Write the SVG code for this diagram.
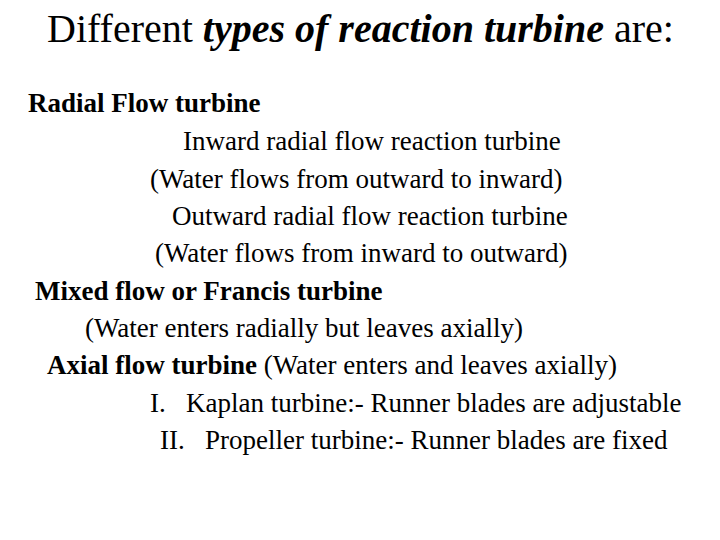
<svg xmlns="http://www.w3.org/2000/svg" width="720" height="540" viewBox="0 0 720 540">
<style>
text{font-family:"Liberation Serif","Times New Roman",serif;fill:#000}
.t{font-size:40px}
.b{font-size:27px}
.bold{font-weight:bold}
</style>
<rect width="720" height="540" fill="#fff"/>
<g id="title"><text class="t" x="47" y="42">Different <tspan font-weight="bold" font-style="italic">types of reaction turbine</tspan> are:</text></g>
<g id="body">
<text class="b bold" x="28" y="112">Radial Flow turbine</text>
<text class="b" x="183" y="150">Inward radial flow reaction turbine</text>
<text class="b" x="150" y="188">(Water flows from outward to inward)</text>
<text class="b" x="172" y="225">Outward radial flow reaction turbine</text>
<text class="b" x="155" y="262">(Water flows from inward to outward)</text>
<text class="b bold" x="35" y="300">Mixed flow or Francis turbine</text>
<text class="b" x="85" y="337">(Water enters radially but leaves axially)</text>
<text class="b" x="47" y="374"><tspan font-weight="bold">Axial flow turbine</tspan> (Water enters and leaves axially)</text>
<text class="b" x="150" y="412" xml:space="preserve">I.   Kaplan turbine:- Runner blades are adjustable</text>
<text class="b" x="160" y="449" xml:space="preserve">II.   Propeller turbine:- Runner blades are fixed</text>
</g>
</svg>
